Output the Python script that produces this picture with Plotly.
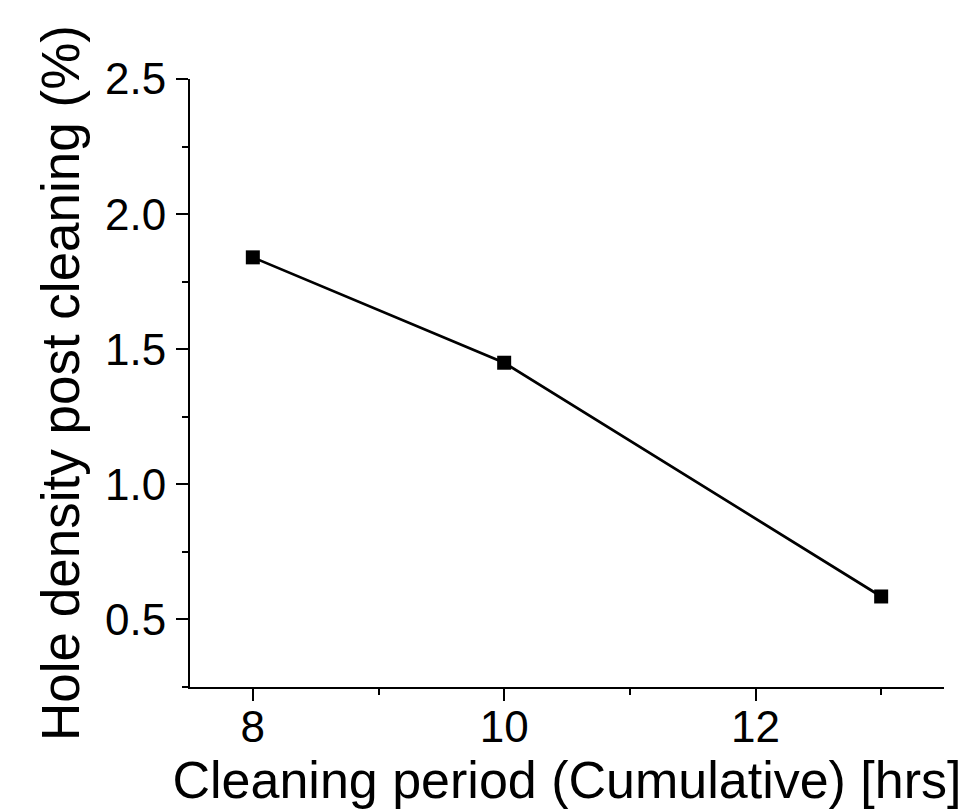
import plotly.graph_objects as go

x_hours = [8, 10, 13]
hole_density = [1.84, 1.45, 0.585]

x_tickvals = [8, 10, 12]
y_tickvals = [0.5, 1.0, 1.5, 2.0, 2.5]
y_ticktext = ["0.5", "1.0", "1.5", "2.0", "2.5"]

FONT = "Arial, Liberation Sans, sans-serif"

fig = go.Figure()
fig.add_trace(go.Scatter(
    x=x_hours, y=hole_density, mode="lines+markers",
    line=dict(color="black", width=2.7),
    marker=dict(symbol="square", size=14, color="black"),
    showlegend=False,
))

fig.update_layout(
    width=967, height=809,
    margin=dict(l=190, r=23, t=79, b=122),
    paper_bgcolor="white", plot_bgcolor="white",
    font=dict(family=FONT, color="black"),
)
fig.update_xaxes(
    range=[7.5, 13.5], showgrid=False, zeroline=False,
    showline=True, linecolor="black", linewidth=2,
    tickmode="array", tickvals=x_tickvals,
    ticks="outside", ticklen=12, tickwidth=2, tickcolor="black",
    minor=dict(dtick=1, tick0=0, ticks="outside", ticklen=6, tickwidth=2, tickcolor="black"),
    tickfont=dict(size=44, family=FONT),
    ticklabelstandoff=-12,
    title=dict(text="Cleaning period (Cumulative) [hrs]", font=dict(size=52, family=FONT), standoff=0),
)
fig.update_yaxes(
    range=[0.25, 2.5], showgrid=False, zeroline=False,
    showline=True, linecolor="black", linewidth=2,
    tickmode="array", tickvals=y_tickvals, ticktext=y_ticktext,
    ticks="outside", ticklen=12, tickwidth=2, tickcolor="black",
    minor=dict(dtick=0.25, tick0=0, ticks="outside", ticklen=6, tickwidth=2, tickcolor="black"),
    tickfont=dict(size=44, family=FONT),
    ticklabelstandoff=1,
    title=dict(text="Hole density post cleaning (%)", font=dict(size=53, family=FONT), standoff=8),
)

fig.write_html("out.html")
